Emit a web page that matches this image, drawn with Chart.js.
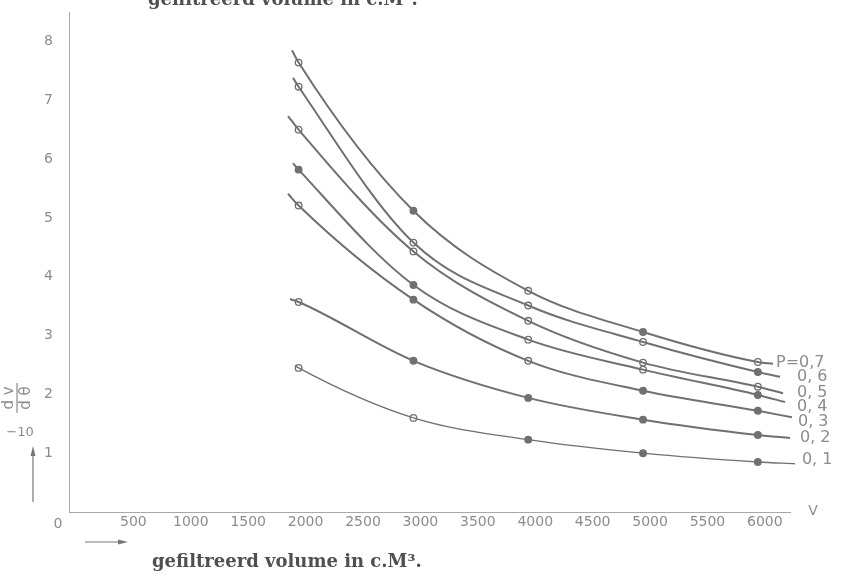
<!DOCTYPE html>
<html>
<head>
<meta charset="utf-8">
<script src="https://cdn.jsdelivr.net/npm/chart.js@4/dist/chart.umd.min.js"></script>
<style>
  html, body { margin: 0; padding: 0; background: #fff; }
  #wrap { width: 845px; height: 579px; position: relative; }
</style>
</head>
<body>
<div id="wrap"><canvas id="c"></canvas></div>
<script>
// Filtered volume (c.M3) at which each rate was measured
const volumes = [2000, 3000, 4000, 5000, 6000];

// Filtration pressure of each curve
const pressures = ['P=0,7', '0, 6', '0, 5', '0, 4', '0, 3', '0, 2', '0, 1'];

// Measured rate dv/dθ for each pressure
const rateP07 = [7.64, 5.12, 3.76, 3.06, 2.55];
const rateP06 = [7.23, 4.58, 3.51, 2.89, 2.38];
const rateP05 = [6.50, 4.43, 3.25, 2.54, 2.13];
const rateP04 = [5.82, 3.86, 2.93, 2.42, 1.99];
const rateP03 = [5.21, 3.61, 2.57, 2.06, 1.72];
const rateP02 = [3.57, 2.57, 1.94, 1.57, 1.31];
const rateP01 = [2.45, 1.60, 1.23, 1.00, 0.85];

// Where each fitted curve begins and ends (volume, rate)
const curveStartVolume = [1942, 1951, 1908, 1951, 1908, 1925, 1968];
const curveStartRate   = [7.85, 7.38, 6.73, 5.93, 5.41, 3.62, 2.49];
const curveEndVolume   = [6132, 6193, 6219, 6236, 6297, 6280, 6323];
const curveEndRate     = [2.52, 2.30, 2.02, 1.87, 1.61, 1.26, 0.82];

// Axis ticks
const xTicks = [0, 500, 1000, 1500, 2000, 2500, 3000, 3500, 4000, 4500, 5000, 5500, 6000];
const yTicks = [1, 2, 3, 4, 5, 6, 7, 8];

const rates = [rateP07, rateP06, rateP05, rateP04, rateP03, rateP02, rateP01];

const INK = '#707070';
const LIGHT = '#8c8c8c';

// Which measured points were inked solid (series index -> point indices)
const solidPoints = [[1, 3], [4], [], [0, 1, 4], [1, 3, 4], [1, 2, 3, 4], [2, 3, 4]];
// Label offsets from the end of each curve, in pixels
const labelShift = [[3, -1], [17, 0], [14, 0], [12, 5], [6, 5], [10, 0], [7, -4]];

const datasets = rates.map((vals, i) => {
  const pts = [{ x: curveStartVolume[i], y: curveStartRate[i] }]
    .concat(volumes.map((v, k) => ({ x: v, y: vals[k] })))
    .concat([{ x: curveEndVolume[i], y: curveEndRate[i] }]);
  const n = pts.length;
  return {
    label: pressures[i],
    data: pts,
    showLine: true,
    cubicInterpolationMode: 'monotone',
    borderColor: INK,
    borderWidth: i === 6 ? 1.3 : 2,
    pointRadius: c => (c.dataIndex === 0 || c.dataIndex === n - 1) ? 0 : 3.3,
    pointBorderColor: INK,
    pointBorderWidth: 1.3,
    pointBackgroundColor: c => solidPoints[i].includes(c.dataIndex - 1) ? INK : 'rgba(255,255,255,0)',
    clip: false
  };
});

const decorations = {
  id: 'decorations',
  afterDraw(chart) {
    const ctx = chart.ctx;
    ctx.save();

    // curve labels at the right-hand ends
    ctx.fillStyle = LIGHT;
    ctx.font = '16px "DejaVu Sans"';
    ctx.textBaseline = 'middle';
    ctx.textAlign = 'left';
    chart.data.datasets.forEach((ds, i) => {
      const meta = chart.getDatasetMeta(i);
      const end = meta.data[meta.data.length - 1];
      ctx.fillText(ds.label, end.x + labelShift[i][0], end.y + labelShift[i][1]);
    });

    // origin and axis letter
    ctx.font = '14px "DejaVu Sans"';
    ctx.textAlign = 'center';
    ctx.fillText('0', 58, 524);
    ctx.fillText('V', 813, 511);

    // vertical axis title: dv/dθ, written sideways
    ctx.save();
    ctx.translate(17, 398);
    ctx.rotate(-Math.PI / 2);
    ctx.font = '15px "DejaVu Sans"';
    ctx.textAlign = 'center';
    ctx.textBaseline = 'middle';
    ctx.fillText('d v', 0, -8);
    ctx.fillText('d θ', 0, 9);
    ctx.strokeStyle = LIGHT;
    ctx.lineWidth = 1.2;
    ctx.beginPath();
    ctx.moveTo(-15, 0);
    ctx.lineTo(15, 0);
    ctx.stroke();
    ctx.restore();

    ctx.font = '13px "DejaVu Sans"';
    ctx.textAlign = 'center';
    ctx.textBaseline = 'middle';
    ctx.fillText('−10', 20, 433);

    // direction arrows
    ctx.strokeStyle = '#777';
    ctx.fillStyle = '#777';
    ctx.lineWidth = 1.2;
    ctx.beginPath();
    ctx.moveTo(33, 502); ctx.lineTo(33, 452); ctx.stroke();
    ctx.beginPath();
    ctx.moveTo(33, 446); ctx.lineTo(30.5, 456); ctx.lineTo(35.5, 456); ctx.closePath(); ctx.fill();
    ctx.beginPath();
    ctx.moveTo(85, 542); ctx.lineTo(121, 542); ctx.stroke();
    ctx.beginPath();
    ctx.moveTo(128, 542); ctx.lineTo(118, 539.5); ctx.lineTo(118, 544.5); ctx.closePath(); ctx.fill();

    // horizontal axis title (also repeated at the clipped top edge)
    ctx.fillStyle = '#505050';
    ctx.font = 'bold 18px "DejaVu Serif"';
    ctx.textAlign = 'left';
    ctx.textBaseline = 'alphabetic';
    ctx.fillText('gefiltreerd volume in c.M³.', 152, 567);
    ctx.fillText('gefiltreerd volume in c.M³.', 148, 5);

    ctx.restore();
  }
};

new Chart(document.getElementById('c'), {
  type: 'scatter',
  data: { datasets },
  options: {
    responsive: true,
    maintainAspectRatio: false,
    animation: false,
    layout: { padding: { top: 12, right: 55, left: 0, bottom: 0 } },
    plugins: { legend: { display: false }, tooltip: { enabled: false } },
    scales: {
      x: {
        type: 'linear',
        min: 0,
        max: 6280,
        afterBuildTicks: s => { s.ticks = xTicks.map(v => ({ value: v })); },
        afterFit: s => { s.height = 67; s.paddingLeft = 0; s.paddingRight = 0; },
        grid: { display: true, drawOnChartArea: false, drawTicks: false },
        border: { display: true, color: '#a8a8a8', width: 1 },
        ticks: {
          color: LIGHT,
          font: { family: 'DejaVu Sans', size: 14 },
          padding: 2,
          labelOffset: 7,
          maxRotation: 0,
          autoSkip: false,
          callback: v => v === 0 ? '' : String(v)
        }
      },
      y: {
        type: 'linear',
        min: 0,
        max: 8.5,
        afterBuildTicks: s => { s.ticks = yTicks.map(v => ({ value: v })); },
        afterFit: s => { s.width = 69; s.paddingTop = 0; s.paddingBottom = 0; },
        grid: { display: true, drawOnChartArea: false, drawTicks: false },
        border: { display: true, color: '#a8a8a8', width: 1 },
        ticks: {
          color: LIGHT,
          font: { family: 'DejaVu Sans', size: 14 },
          padding: 16
        }
      }
    }
  },
  plugins: [decorations]
});
</script>
</body>
</html>
